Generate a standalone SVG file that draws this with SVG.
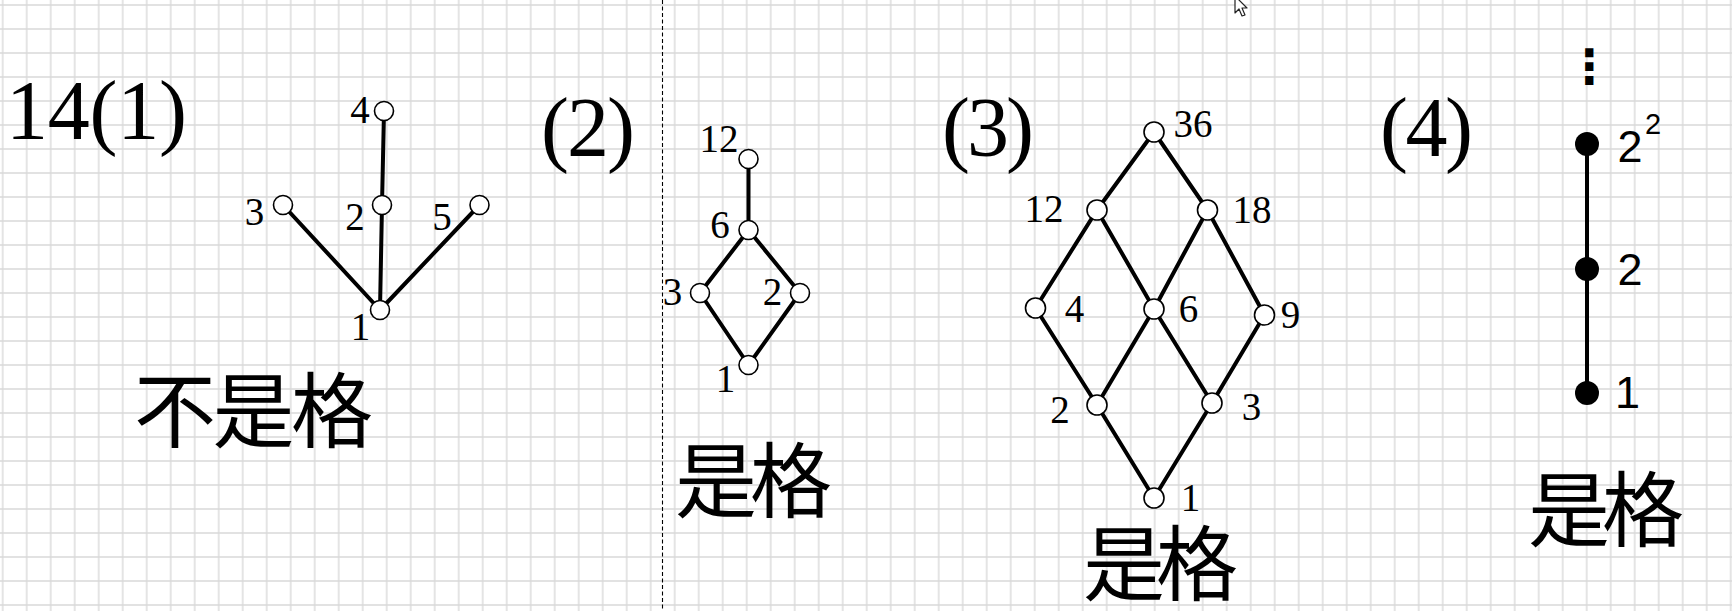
<svg xmlns="http://www.w3.org/2000/svg" width="1732" height="611" viewBox="0 0 1732 611">
<style>
.e{stroke:#000;stroke-width:4;stroke-linecap:round;fill:none}
.o{fill:#fff;stroke:#000;stroke-width:1.6}
.f{fill:#000}
.lb{font-family:"Liberation Serif","DejaVu Serif",serif;font-size:39px;fill:#000;text-anchor:middle}
.ls{font-family:"Liberation Sans","DejaVu Sans",sans-serif;font-size:45px;fill:#000;text-anchor:middle}
.sup{font-family:"Liberation Sans","DejaVu Sans",sans-serif;font-size:29px;fill:#000;text-anchor:middle}
.hd{font-family:"Liberation Serif","DejaVu Serif",serif;font-size:84px;fill:#000}
.cn{font-family:"Noto Sans CJK SC","Noto Sans CJK JP",sans-serif;font-size:82px;fill:#000}
</style>
<defs>
<pattern id="grid" x="-9.3" y="-7" width="24" height="24" patternUnits="userSpaceOnUse">
<path d="M0 12H24M12 0V24" stroke="#d9d9d9" stroke-width="1.4" fill="none"/>
</pattern>
</defs>
<rect width="1732" height="611" fill="#fff"/>
<rect width="1732" height="611" fill="url(#grid)"/>
<line x1="662.5" y1="0" x2="662.5" y2="611" stroke="#000" stroke-width="1.1" stroke-dasharray="4 2.5"/>
<polygon points="1235,-4 1235,13 1239,9 1242,16 1245,15 1242,8 1247,8" fill="#fff" stroke="#222" stroke-width="1.2" stroke-linejoin="round"/>

<g id="headings">
<text class="hd" x="6" y="139" textLength="181" lengthAdjust="spacing">14(1)</text>
<text class="hd" x="541" y="156" textLength="94" lengthAdjust="spacing">(2)</text>
<text class="hd" x="942" y="156" textLength="92" lengthAdjust="spacing">(3)</text>
<text class="hd" x="1380" y="156" textLength="93" lengthAdjust="spacing">(4)</text>
</g>

<g id="verdicts">
<text class="cn" x="134" y="441" textLength="239" lengthAdjust="spacing">不是格</text>
<text class="cn" x="675" y="511" textLength="157" lengthAdjust="spacing">是格</text>
<text class="cn" x="1083" y="594" textLength="155" lengthAdjust="spacing">是格</text>
<text class="cn" x="1528" y="540" textLength="156" lengthAdjust="spacing">是格</text>
</g>

<g id="connectors">
<line class="e" x1="384" y1="111" x2="382" y2="205"/>
<line class="e" x1="283" y1="205" x2="380" y2="310"/>
<line class="e" x1="382" y1="205" x2="380" y2="310"/>
<line class="e" x1="479.5" y1="205" x2="380" y2="310"/>

<line class="e" x1="748.5" y1="159" x2="748.5" y2="230"/>
<line class="e" x1="748.5" y1="230" x2="700" y2="293"/>
<line class="e" x1="748.5" y1="230" x2="800" y2="293"/>
<line class="e" x1="700" y1="293" x2="748.5" y2="365"/>
<line class="e" x1="800" y1="293" x2="748.5" y2="365"/>

<line class="e" x1="1154" y1="132" x2="1097" y2="210"/>
<line class="e" x1="1154" y1="132" x2="1207.5" y2="210"/>
<line class="e" x1="1097" y1="210" x2="1035.5" y2="308"/>
<line class="e" x1="1097" y1="210" x2="1154" y2="309"/>
<line class="e" x1="1207.5" y1="210" x2="1154" y2="309"/>
<line class="e" x1="1207.5" y1="210" x2="1264.5" y2="315"/>
<line class="e" x1="1035.5" y1="308" x2="1097" y2="405"/>
<line class="e" x1="1154" y1="309" x2="1097" y2="405"/>
<line class="e" x1="1154" y1="309" x2="1212" y2="403"/>
<line class="e" x1="1264.5" y1="315" x2="1212" y2="403"/>
<line class="e" x1="1097" y1="405" x2="1154" y2="498"/>
<line class="e" x1="1212" y1="403" x2="1154" y2="498"/>

<line class="e" x1="1587" y1="144" x2="1587" y2="393"/>
</g>

<g id="p1-n4"><circle class="o" cx="384" cy="111" r="9.5"/><text class="lb" x="360" y="123">4</text></g>
<g id="p1-n2"><circle class="o" cx="382" cy="205" r="9.5"/><text class="lb" x="355" y="230">2</text></g>
<g id="p1-n3"><circle class="o" cx="283" cy="205" r="9.5"/><text class="lb" x="254.5" y="225">3</text></g>
<g id="p1-n5"><circle class="o" cx="479.5" cy="205" r="9.5"/><text class="lb" x="442" y="230">5</text></g>
<g id="p1-n1"><circle class="o" cx="380" cy="310" r="9.5"/><text class="lb" x="360.5" y="340">1</text></g>

<g id="p2-n12"><circle class="o" cx="748.5" cy="159" r="9.5"/><text class="lb" x="719" y="152">12</text></g>
<g id="p2-n6"><circle class="o" cx="748.5" cy="230" r="9.5"/><text class="lb" x="720" y="238">6</text></g>
<g id="p2-n3"><circle class="o" cx="700" cy="293" r="9.5"/><text class="lb" x="672.5" y="305">3</text></g>
<g id="p2-n2"><circle class="o" cx="800" cy="293" r="9.5"/><text class="lb" x="772.5" y="305">2</text></g>
<g id="p2-n1"><circle class="o" cx="748.5" cy="365" r="9.5"/><text class="lb" x="725.5" y="392">1</text></g>

<g id="p3-n36"><circle class="o" cx="1154" cy="132" r="10"/><text class="lb" x="1193" y="137">36</text></g>
<g id="p3-n12"><circle class="o" cx="1097" cy="210" r="10"/><text class="lb" x="1044" y="222">12</text></g>
<g id="p3-n18"><circle class="o" cx="1207.5" cy="210" r="10"/><text class="lb" x="1252" y="223">18</text></g>
<g id="p3-n4"><circle class="o" cx="1035.5" cy="308" r="10"/><text class="lb" x="1074.5" y="322">4</text></g>
<g id="p3-n6"><circle class="o" cx="1154" cy="309" r="10"/><text class="lb" x="1188.5" y="322">6</text></g>
<g id="p3-n9"><circle class="o" cx="1264.5" cy="315" r="10"/><text class="lb" x="1290.5" y="328">9</text></g>
<g id="p3-n2"><circle class="o" cx="1097" cy="405" r="10"/><text class="lb" x="1060" y="423">2</text></g>
<g id="p3-n3"><circle class="o" cx="1212" cy="403" r="10"/><text class="lb" x="1251.5" y="420">3</text></g>
<g id="p3-n1"><circle class="o" cx="1154" cy="498" r="10"/><text class="lb" x="1190.5" y="511">1</text></g>

<g id="p4-dots"><text x="1589.5" y="83" font-family="DejaVu Sans, sans-serif" font-size="47" font-weight="bold" text-anchor="middle" fill="#000">⋮</text></g>
<g id="p4-n4"><circle class="f" cx="1587" cy="144" r="12"/><text class="ls" x="1630" y="162">2</text><text class="sup" x="1653" y="134">2</text></g>
<g id="p4-n2"><circle class="f" cx="1587" cy="269" r="12"/><text class="ls" x="1630" y="285">2</text></g>
<g id="p4-n1"><circle class="f" cx="1587" cy="393" r="12"/><text class="ls" x="1627.5" y="408">1</text></g>
</svg>
